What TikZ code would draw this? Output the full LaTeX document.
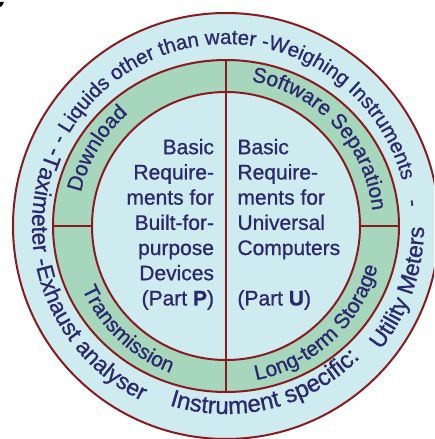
\documentclass[tikz,border=0pt]{standalone}
\usepackage{fontspec}
\setmainfont{Liberation Sans}[FakeBold=0.9]
\usetikzlibrary{decorations.text}

\definecolor{sky}{RGB}{206,235,240}
\definecolor{leaf}{RGB}{166,215,189}
\definecolor{rimred}{RGB}{137,27,30}
\definecolor{ink}{RGB}{44,40,110}

\newcommand{\topfont}{\fontsize{20.5}{24}\selectfont}
\newcommand{\rimfont}{\fontsize{23}{27}\selectfont}
\newcommand{\bandfont}{\fontsize{21}{25}\selectfont}

\begin{document}
\begin{tikzpicture}[line width=2pt,
  along/.style={decorate,decoration={text along path,text align=center,text color=ink,text={#1}}},
  part/.style={inner sep=0pt,text=ink,font=\fontsize{21}{25.2}\selectfont}]
\useasboundingbox (-226pt,-213pt) rectangle (208pt,226pt);
\clip (-226pt,-213pt) rectangle (208pt,226pt);
\fill (-226pt,224pt) -- (-222pt,224pt) -- (-224pt,220pt) -- (-226pt,219pt) -- cycle;
% rings
\filldraw[fill=sky,draw=rimred] (0,0) circle[radius=213pt];
\filldraw[fill=leaf,draw=rimred] (0,0) ellipse[x radius=173pt,y radius=166pt];
\filldraw[fill=sky,draw=rimred] (0,0) circle[radius=134pt];
\draw[rimred] (0,166pt) -- (0,-166pt);
\draw[rimred] (-173pt,0) -- (-134pt,0) (134pt,0) -- (173pt,0);
% outer ring, clockwise on top
\path[along={|\topfont|- Liquids other than water -Weighing Instruments}] (164:182pt) arc[start angle=164,end angle=4,radius=182pt];
\path[along={|\topfont|-}] (17:182pt) arc[start angle=17,end angle=-3,radius=182pt];
% outer ring, counterclockwise below
\path[along={|\rimfont|-Taximeter -Exhaust analyser}] (150:194pt) arc[start angle=150,end angle=250,radius=194pt];
\path[along={|\fontsize{24}{28}\selectfont|Instrument specific:}] (238:188pt) arc[start angle=238,end angle=330,radius=188pt];
\path[along={|\rimfont|Utility Meters}] (305:198pt) arc[start angle=305,end angle=376,radius=198pt];
% green band
\path[along={|\bandfont|Download}] (189:149pt) arc[start angle=189,end angle=109,radius=149pt];
\path[along={|\bandfont|Software Separation}] (93:147pt) arc[start angle=93,end angle=-7,radius=147pt];
\path[along={|\bandfont|Transmission}] (186:157pt) arc[start angle=186,end angle=267,radius=157pt];
\path[along={|\bandfont|Long-term Storage}] (262:157pt) arc[start angle=262,end angle=364,radius=157pt];
% two halves
\node[part,align=right,anchor=north east] (builtin) at (-11pt,88pt) {Basic\\Require-\\ments for\\Built-for-\\purpose\\Devices\\(Part \textbf{P})};
\node[part,align=left,anchor=north west] (universal) at (10.5pt,88pt) {Basic\\Require-\\ments for\\Universal\\Computers\\\mbox{}\\(Part \textbf{U})};
\end{tikzpicture}
\end{document}
